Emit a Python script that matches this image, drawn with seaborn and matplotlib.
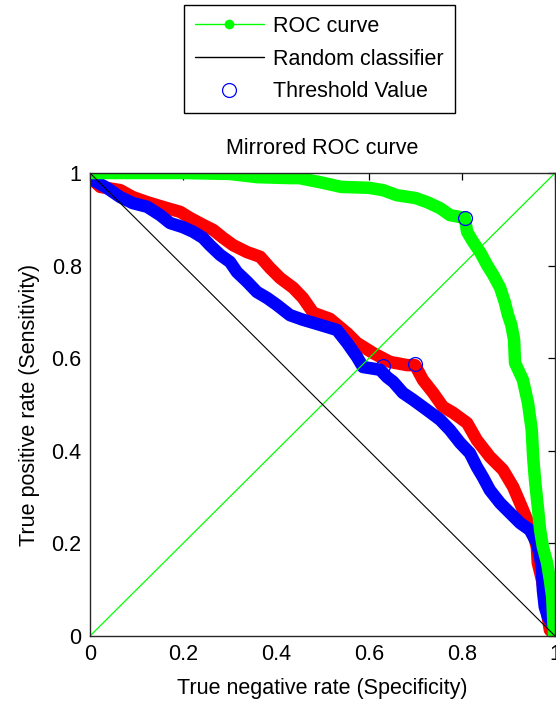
import matplotlib
matplotlib.use("Agg")
import matplotlib.pyplot as plt
import seaborn as sns
import numpy as np
from matplotlib.lines import Line2D
from matplotlib.ticker import FuncFormatter

# Mirrored ROC curves: x = specificity, y = sensitivity
green_x = [0.0, 0.1, 0.2, 0.3, 0.36, 0.43, 0.45, 0.50, 0.54, 0.60, 0.63, 0.66, 0.70, 0.725,
           0.753, 0.774, 0.806, 0.811, 0.824, 0.839, 0.854, 0.867, 0.882, 0.892, 0.899, 0.906,
           0.912, 0.914, 0.931, 0.942, 0.950, 0.953, 0.957, 0.963, 0.968, 0.974, 0.983, 0.989,
           0.994, 0.996, 0.998, 1.0]
green_y = [1.0, 1.0, 1.0, 0.998, 0.991, 0.989, 0.989, 0.979, 0.970, 0.968, 0.963, 0.952, 0.946,
           0.937, 0.924, 0.909, 0.903, 0.873, 0.851, 0.829, 0.801, 0.780, 0.752, 0.721, 0.693,
           0.672, 0.640, 0.590, 0.553, 0.503, 0.445, 0.387, 0.337, 0.279, 0.229, 0.192, 0.158,
           0.121, 0.084, 0.041, 0.0, 0.0]

red_x = [0.0, 0.006, 0.022, 0.065, 0.092, 0.123, 0.166, 0.194, 0.215, 0.243, 0.265, 0.286,
         0.308, 0.338, 0.366, 0.387, 0.409, 0.437, 0.458, 0.480, 0.516, 0.553, 0.574, 0.609,
         0.645, 0.682, 0.699, 0.716, 0.738, 0.759, 0.781, 0.811, 0.832, 0.860, 0.888, 0.910,
         0.925, 0.940, 0.953, 0.961, 0.963, 0.972, 0.978, 0.983, 0.989, 1.0]
red_y = [1.0, 0.985, 0.970, 0.963, 0.948, 0.937, 0.924, 0.916, 0.903, 0.888, 0.877, 0.860,
         0.844, 0.829, 0.819, 0.795, 0.773, 0.752, 0.730, 0.698, 0.685, 0.654, 0.633, 0.611,
         0.592, 0.585, 0.585, 0.553, 0.525, 0.495, 0.482, 0.460, 0.423, 0.387, 0.359, 0.322,
         0.287, 0.251, 0.222, 0.192, 0.158, 0.121, 0.084, 0.050, 0.013, 0.0]

blue_x = [0.0, 0.006, 0.036, 0.065, 0.092, 0.123, 0.151, 0.172, 0.200, 0.222, 0.243, 0.258,
          0.280, 0.301, 0.316, 0.338, 0.359, 0.381, 0.402, 0.430, 0.458, 0.495, 0.531, 0.553,
          0.574, 0.587, 0.624, 0.639, 0.652, 0.673, 0.695, 0.725, 0.753, 0.774, 0.796, 0.817,
          0.832, 0.845, 0.860, 0.882, 0.903, 0.925, 0.946, 0.961, 0.968, 0.972, 0.974, 0.978,
          0.985, 0.994, 1.0]
blue_y = [1.0, 0.985, 0.968, 0.948, 0.935, 0.927, 0.909, 0.892, 0.883, 0.873, 0.860, 0.844,
          0.823, 0.808, 0.786, 0.765, 0.743, 0.730, 0.715, 0.693, 0.683, 0.672, 0.661, 0.633,
          0.603, 0.581, 0.575, 0.559, 0.549, 0.525, 0.510, 0.488, 0.467, 0.445, 0.417, 0.395,
          0.365, 0.343, 0.315, 0.287, 0.266, 0.244, 0.229, 0.201, 0.171, 0.143, 0.099, 0.063,
          0.041, 0.028, 0.0]

threshold_x = [0.806, 0.699, 0.630]
threshold_y = [0.903, 0.587, 0.583]

diag = [0.0, 1.0]
anti_diag = [1.0, 0.0]

sns.set_style("white")
plt.rcParams.update({
    "font.family": ["Liberation Sans", "DejaVu Sans"],
    "font.size": 15.5,
    "xtick.direction": "in",
    "ytick.direction": "in",
    "xtick.top": True,
    "ytick.right": True,
    "text.color": "black",
    "axes.labelcolor": "black",
    "xtick.color": "black",
    "ytick.color": "black",
})

fig = plt.figure(figsize=(5.56, 7.02), dpi=100)
ax = fig.add_axes([90 / 556, 66 / 702, 465 / 556, 463 / 702])

band = dict(linewidth=9, solid_joinstyle="round", solid_capstyle="round", legend=False)
sns.lineplot(x=red_x, y=red_y, sort=False, estimator=None, color="#ff0000", ax=ax, **band)
sns.lineplot(x=blue_x, y=blue_y, sort=False, estimator=None, color="#0000ff", ax=ax, **band)
sns.lineplot(x=green_x, y=green_y, sort=False, estimator=None, color="#00ff00", ax=ax, **band)

sns.lineplot(x=diag, y=diag, color="#00ff00", linewidth=0.9, ax=ax, legend=False)
sns.lineplot(x=diag, y=anti_diag, color="black", linewidth=0.8, ax=ax, legend=False)

ax.plot(threshold_x, threshold_y, linestyle="none", marker="o", markersize=10,
        markerfacecolor="none", markeredgecolor="#0000ff", markeredgewidth=0.9, zorder=5)

ax.set_xlim(0, 1)
ax.set_ylim(0, 1)
ax.set_xticks(np.arange(0, 1.01, 0.2))
ax.set_yticks(np.arange(0, 1.01, 0.2))
fmt = FuncFormatter(lambda v, p: f"{v:g}")
ax.xaxis.set_major_formatter(fmt)
ax.yaxis.set_major_formatter(fmt)
ax.tick_params(length=5, width=0.9, pad=6, labelsize=15.5)
for s in ax.spines.values():
    s.set_color("#262626")
    s.set_linewidth(1.0)

ax.set_title("Mirrored ROC curve", fontsize=15.5, pad=14)
ax.set_xlabel("True negative rate (Specificity)", fontsize=15.5, labelpad=9)
ax.set_ylabel("True positive rate (Sensitivity)", fontsize=15.5, labelpad=8)

handles = [
    Line2D([], [], color="#00ff00", linewidth=1, marker=".", markersize=12),
    Line2D([], [], color="black", linewidth=1),
    Line2D([], [], color="#0000ff", linestyle="none", marker="o", markersize=10,
           markerfacecolor="none", markeredgewidth=0.9),
]
labels = ["ROC curve", "Random classifier", "Threshold Value"]
leg = fig.legend(handles, labels, loc="upper left", bbox_to_anchor=(184 / 556, 1 - 5 / 702),
                 borderaxespad=0, fancybox=False, framealpha=1, edgecolor="black",
                 fontsize=15.5, handlelength=3.2, handletextpad=0.45, labelspacing=0.55,
                 borderpad=0.5)
leg.get_frame().set_linewidth(1.0)

fig.savefig("out.png", dpi=100)
